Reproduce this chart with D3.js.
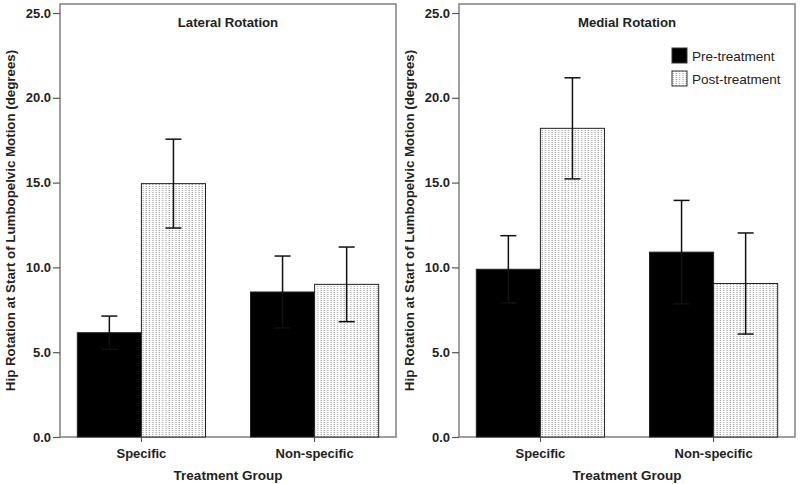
<!DOCTYPE html>
<html>
<head>
<meta charset="utf-8">
<script src="https://cdn.jsdelivr.net/npm/d3@7"></script>
<style>
  body { margin: 0; background: #fff; }
  svg { display: block; font-family: "Liberation Sans", Arial, sans-serif; }
</style>
</head>
<body>
<div id="chart"></div>
<script>
// Data
const groups = ["Specific", "Non-specific"];
const phases = ["Pre-treatment", "Post-treatment"];
const panelTitles = ["Lateral Rotation", "Medial Rotation"];
const yTicks = [0, 5, 10, 15, 20, 25];

// means per panel: [group][phase]
const lateralMeans = [[6.15, 14.94], [8.55, 9.0]];
const lateralErr = [[0.98, 2.62], [2.12, 2.2]];
const medialMeans = [[9.89, 18.2], [10.9, 9.05]];
const medialErr = [[1.98, 2.98], [3.05, 2.98]];

const width = 800, height = 484;
const svg = d3.select("#chart").append("svg")
    .attr("width", width)
    .attr("height", height);

// dotted fill for post-treatment bars
const defs = svg.append("defs");
const pat = defs.append("pattern")
    .attr("id", "dots")
    .attr("patternUnits", "userSpaceOnUse")
    .attr("width", 3.3)
    .attr("height", 2);
pat.append("rect").attr("width", 3.3).attr("height", 2).attr("fill", "#fff");
pat.append("rect").attr("x", 0.5).attr("width", 1).attr("height", 1).attr("fill", "#8a8a8a");

const y = d3.scaleLinear().domain([0, 25]).range([437, 13]);

const panels = [
    { title: panelTitles[0], means: lateralMeans, err: lateralErr, left: 60, right: 396 },
    { title: panelTitles[1], means: medialMeans, err: medialErr, left: 459, right: 795 }
];

const fills = ["#000", "url(#dots)"];

panels.forEach((p, pi) => {
    const g = svg.append("g");

    const x0 = d3.scaleBand().domain(groups).range([p.left, p.right])
        .paddingInner(0.26).paddingOuter(0.1);
    const x1 = d3.scaleBand().domain(phases).range([0, x0.bandwidth()]);

    // frame
    g.append("rect")
        .attr("x", p.left).attr("y", 4)
        .attr("width", p.right - p.left).attr("height", 437 - 4)
        .attr("fill", "none").attr("stroke", "#808080").attr("stroke-width", 1.5);

    // bars
    groups.forEach((grp, gi) => {
        phases.forEach((ph, si) => {
            const v = p.means[gi][si];
            g.append("rect")
                .attr("x", x0(grp) + x1(ph))
                .attr("y", y(v))
                .attr("width", x1.bandwidth())
                .attr("height", y(0) - y(v))
                .attr("fill", fills[si])
                .attr("stroke", "#222")
                .attr("stroke-width", 1);
        });
    });

    // error bars (dark, so they vanish inside the black bars)
    groups.forEach((grp, gi) => {
        phases.forEach((ph, si) => {
            const v = p.means[gi][si], e = p.err[gi][si];
            const cx = x0(grp) + x1(ph) + x1.bandwidth() / 2;
            const col = "#111";
            g.append("line")
                .attr("x1", cx).attr("x2", cx)
                .attr("y1", y(v + e)).attr("y2", y(v - e))
                .attr("stroke", col).attr("stroke-width", 1.5);
            [v + e, v - e].forEach(t => {
                g.append("line")
                    .attr("x1", cx - 8).attr("x2", cx + 8)
                    .attr("y1", y(t)).attr("y2", y(t))
                    .attr("stroke", col).attr("stroke-width", 1.5);
            });
        });
    });

    // y axis
    const yAxis = d3.axisLeft(y).tickValues(yTicks).tickSize(7).tickFormat(d3.format(".1f"));
    const ya = g.append("g").attr("transform", `translate(${p.left},0)`).call(yAxis);
    ya.select(".domain").remove();
    ya.selectAll("line").attr("stroke", "#555").attr("stroke-width", 1.2);
    ya.selectAll("text").attr("font-size", 13).attr("font-weight", "bold").attr("fill", "#222").attr("dx", 1);

    // x axis
    const xAxis = d3.axisBottom(x0).tickSize(7).tickPadding(4);
    const xa = g.append("g").attr("transform", `translate(0,437)`).call(xAxis);
    xa.select(".domain").remove();
    xa.selectAll("line").attr("stroke", "#444").attr("stroke-width", 1);
    xa.selectAll(".tick line").attr("y1", -7).attr("y2", 5);
    xa.selectAll("text").attr("font-size", 13).attr("font-weight", "bold").attr("fill", "#222").attr("y", 12);

    // titles
    g.append("text")
        .attr("x", (p.left + p.right) / 2).attr("y", 27)
        .attr("text-anchor", "middle")
        .attr("font-size", 13.2).attr("font-weight", "bold").attr("fill", "#222")
        .text(p.title);

    g.append("text")
        .attr("x", (p.left + p.right) / 2).attr("y", 480)
        .attr("text-anchor", "middle")
        .attr("font-size", 13.5).attr("font-weight", "bold").attr("fill", "#222")
        .text("Treatment Group");

    g.append("text")
        .attr("transform", `translate(${p.left - 45},${(437 + 4) / 2}) rotate(-90)`)
        .attr("text-anchor", "middle")
        .attr("font-size", 13.3).attr("font-weight", "bold").attr("fill", "#222")
        .text("Hip Rotation at Start of Lumbopelvic Motion (degrees)");
});

// legend in right panel
const legend = svg.append("g").attr("transform", "translate(672,48)");
phases.forEach((ph, i) => {
    const row = legend.append("g").attr("transform", `translate(0,${i * 23})`);
    row.append("rect").attr("width", 15).attr("height", 15)
        .attr("fill", fills[i]).attr("stroke", "#333").attr("stroke-width", 1);
    row.append("text").attr("x", 20).attr("y", 12.5)
        .attr("font-size", 13.5).attr("fill", "#222").text(ph);
});
</script>
</body>
</html>
